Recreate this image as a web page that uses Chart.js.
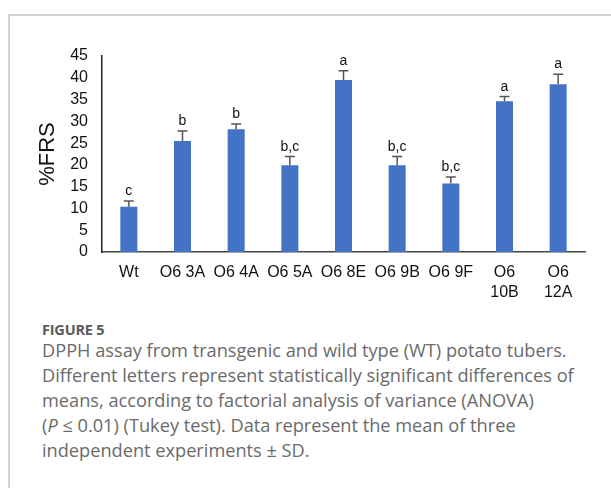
<!DOCTYPE html>
<html>
<head>
<meta charset="utf-8">
<script src="https://cdn.jsdelivr.net/npm/chart.js@4"></script>
<style>
  html, body { margin: 0; padding: 0; background: #fff; }
  body { width: 611px; height: 488px; overflow: hidden; position: relative; }
  #card { position: absolute; left: 8px; top: 14px; width: 700px; height: 600px; border: 2px solid #d3d3d3; }
  #chartBox { position: absolute; left: 0; top: 0; width: 611px; height: 310px; }
  #figLabel { position: absolute; left: 42px; top: 322px; font-family: "Open Sans", sans-serif; font-weight: 700; font-size: 14.5px; line-height: 16px; color: #5b5b5b; letter-spacing: -0.2px; }
  #caption { position: absolute; left: 42px; top: 338px; font-family: "Open Sans", sans-serif; font-size: 18.2px; line-height: 25px; color: #6a6a6a; white-space: nowrap; }
</style>
</head>
<body>
<div id="card"></div>
<div id="chartBox"><canvas id="frsChart"></canvas></div>
<div id="figLabel">FIGURE 5</div>
<div id="caption">DPPH assay from transgenic and wild type (WT) potato tubers.<br>Different letters represent statistically significant differences of<br>means, according to factorial analysis of variance (ANOVA)<br>(<i>P</i> ≤ 0.01) (Tukey test). Data represent the mean of three<br>independent experiments ± SD.</div>
<script>
// values
const lines = ['Wt', 'O6 3A', 'O6 4A', 'O6 5A', 'O6 8E', 'O6 9B', 'O6 9F', ['O6', '10B'], ['O6', '12A']];
const frs = [10.4, 25.5, 28.2, 19.9, 39.5, 19.9, 15.7, 34.6, 38.5];
const sd = [1.3, 2.3, 1.2, 2.0, 2.1, 2.0, 1.5, 1.1, 2.3];
const letters = ['c', 'b', 'b', 'b,c', 'a', 'b,c', 'b,c', 'a', 'a'];
const yTicks = [0, 5, 10, 15, 20, 25, 30, 35, 40, 45];

// upper error bars + significance letters
const errorBars = {
    id: 'errorBars',
    afterDatasetsDraw(chart) {
        const ctx = chart.ctx;
        const y = chart.scales.y;
        const bars = chart.getDatasetMeta(0).data;
        ctx.save();
        bars.forEach(function (bar, i) {
            const top = y.getPixelForValue(frs[i]);
            const end = y.getPixelForValue(frs[i] + sd[i]);
            ctx.strokeStyle = '#555';
            ctx.lineWidth = 1.5;
            ctx.beginPath();
            ctx.moveTo(bar.x, top);
            ctx.lineTo(bar.x, end);
            ctx.moveTo(bar.x - 5, end);
            ctx.lineTo(bar.x + 5, end);
            ctx.stroke();
            ctx.fillStyle = '#111';
            ctx.font = '14px "Liberation Sans", Arial, sans-serif';
            ctx.textAlign = 'center';
            ctx.textBaseline = 'alphabetic';
            ctx.fillText(letters[i], bar.x, end - 6);
        });
        ctx.restore();
    }
};

new Chart(document.getElementById('frsChart'), {
    type: 'bar',
    data: {
        labels: lines,
        datasets: [{
            data: frs,
            backgroundColor: '#4472C4',
            categoryPercentage: 1,
            barPercentage: 0.317
        }]
    },
    options: {
        responsive: true,
        maintainAspectRatio: false,
        animation: false,
        layout: { padding: { top: 56, right: 26, left: 0, bottom: 0 } },
        plugins: { legend: { display: false }, tooltip: { enabled: false } },
        scales: {
            x: {
                grid: { display: false, drawTicks: false },
                border: { color: '#444', width: 1.5 },
                ticks: {
                    color: '#111',
                    padding: 11,
                    maxRotation: 0,
                    autoSkip: false,
                    font: { family: '"Liberation Sans", Arial, sans-serif', size: 16, lineHeight: 1.25 }
                },
                afterFit(scale) { scale.height = 58; }
            },
            y: {
                min: 0,
                max: 45,
                afterBuildTicks(scale) { scale.ticks = yTicks.map(v => ({ value: v })); },
                grid: { display: false, drawTicks: false },
                border: { color: '#222', width: 1.5 },
                ticks: {
                    color: '#111',
                    padding: 14,
                    autoSkip: false,
                    font: { family: '"Liberation Sans", Arial, sans-serif', size: 16 }
                },
                title: {
                    display: true,
                    text: '%FRS',
                    color: '#111',
                    padding: { top: 35, bottom: 0 },
                    font: { family: '"Liberation Sans", Arial, sans-serif', size: 22 }
                },
                afterFit(scale) { scale.width = 102; }
            }
        }
    },
    plugins: [errorBars]
});
</script>
</body>
</html>
